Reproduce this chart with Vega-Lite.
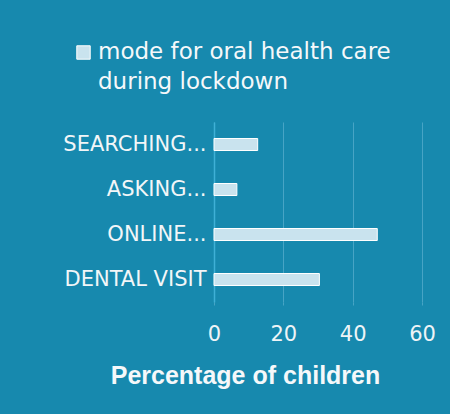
{
  "$schema": "https://vega.github.io/schema/vega-lite/v6.json",
  "width": 208,
  "height": 180,
  "autosize": {"type": "none"},
  "padding": {"left": 214, "top": 122, "right": 28, "bottom": 112},
  "background": "#1789ae",
  "data": {
    "values": [
      {"mode": "SEARCHING...", "pct": 12.6, "series": "mode for oral health care during lockdown"},
      {"mode": "ASKING...", "pct": 6.6, "series": "mode for oral health care during lockdown"},
      {"mode": "ONLINE...", "pct": 47.1, "series": "mode for oral health care during lockdown"},
      {"mode": "DENTAL VISIT", "pct": 30.4, "series": "mode for oral health care during lockdown"}
    ]
  },
  "mark": {"type": "bar", "size": 12, "stroke": "#ffffff", "strokeWidth": 1},
  "encoding": {
    "y": {
      "field": "mode",
      "type": "nominal",
      "sort": null,
      "title": null,
      "axis": {
        "domain": true,
        "domainColor": "#3fb0d6",
        "domainWidth": 1.5,
        "ticks": false,
        "labelPadding": 8,
        "labelFont": "DejaVu Sans",
        "labelFontSize": 21,
        "labelColor": "#f2f6f8",
        "labelLimit": 220
      }
    },
    "x": {
      "field": "pct",
      "type": "quantitative",
      "scale": {"domain": [0, 60], "nice": false},
      "axis": {
        "values": [0, 20, 40, 60],
        "title": "Percentage of children",
        "titleFont": "Liberation Sans",
        "titleFontSize": 25,
        "titleFontWeight": "bold",
        "titleColor": "#f5f8fa",
        "titleAlign": "center",
        "titleX": 31,
        "titleY": 81,
        "titleBaseline": "alphabetic",
        "labelFont": "DejaVu Sans",
        "labelFontSize": 21,
        "labelColor": "#eef4f7",
        "labelPadding": 18,
        "labelFlush": false,
        "domain": false,
        "grid": true,
        "gridColor": "#47a4c5",
        "gridWidth": 1,
        "tickColor": "#47a4c5",
        "tickSize": 3
      }
    },
    "color": {
      "field": "series",
      "type": "nominal",
      "scale": {"range": ["#c9e3ee"]},
      "legend": {
        "title": null,
        "orient": "none",
        "legendX": -142,
        "legendY": -81,
        "padding": 0,
        "symbolType": "square",
        "symbolSize": 180,
        "symbolStrokeColor": "#ffffff",
        "symbolStrokeWidth": 1,
        "labelFont": "DejaVu Sans",
        "labelFontSize": 23,
        "labelColor": "#f5f8fa",
        "labelOffset": 3,
        "labelLimit": 400,
        "labelExpr": "[slice(datum.label, 0, 25), slice(datum.label, 26)]",
        "encode": {"labels": {"update": {"lineHeight": {"value": 30}, "baseline": {"value": "top"}, "dy": {"value": -12}}}}
      }
    }
  },
  "config": {"view": {"stroke": null}}
}
